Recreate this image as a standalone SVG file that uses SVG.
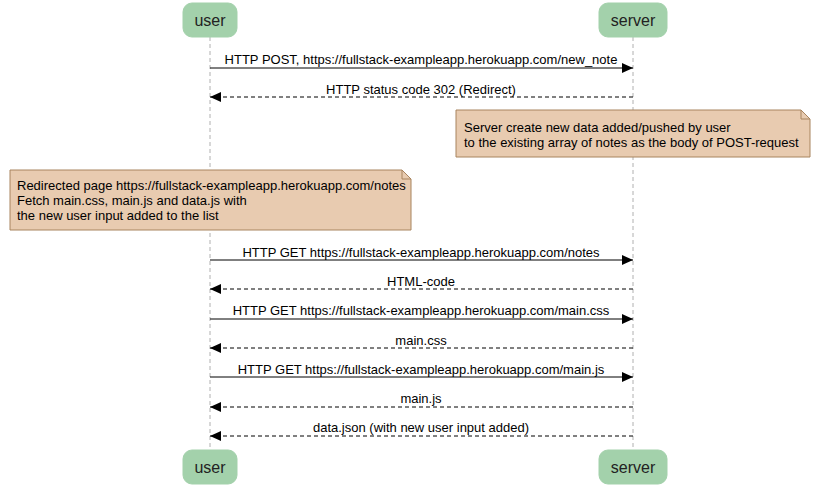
<svg xmlns="http://www.w3.org/2000/svg" width="819" height="487" viewBox="0 0 819 487">
<style>
.actor{fill:#a3d1ab;stroke:#a3d1ab;stroke-width:1}
.atext{font-family:"Liberation Sans",Arial,sans-serif;font-size:16px;fill:#222;text-anchor:middle}
.life{stroke:#b0b0b0;stroke-width:1;stroke-dasharray:4,3}
.msg{stroke:#000;stroke-width:1;fill:none}
.dash{stroke-dasharray:4,3}
.mtext{font-family:"Liberation Sans",Arial,sans-serif;font-size:13px;fill:#000;text-anchor:middle}
.note{fill:#e8cbb0;stroke:#a8845f;stroke-width:1}
.ntext{font-family:"Liberation Sans",Arial,sans-serif;font-size:13px;fill:#000}
</style>
<defs>
<marker id="ah" markerWidth="12" markerHeight="10" refX="11" refY="5" orient="auto" markerUnits="userSpaceOnUse">
<path d="M0,0 L11,5 L0,10 z" fill="#000"/>
</marker>
</defs>
<rect width="819" height="487" fill="#fff"/>
<g id="lifelines">
<line class="life" x1="210" y1="37" x2="210" y2="450"/>
<line class="life" x1="633" y1="37" x2="633" y2="450"/>
</g>
<g id="user-top"><rect class="actor" x="183" y="3" width="54" height="34" rx="9"/><text class="atext" x="210" y="26">user</text></g>
<g id="server-top"><rect class="actor" x="599" y="3" width="68" height="34" rx="9"/><text class="atext" x="633" y="26">server</text></g>
<g id="user-bottom"><rect class="actor" x="183" y="450" width="54" height="34" rx="9"/><text class="atext" x="210" y="473">user</text></g>
<g id="server-bottom"><rect class="actor" x="599" y="450" width="68" height="34" rx="9"/><text class="atext" x="633" y="473">server</text></g>
<g id="note1">
<path class="note" d="M456,110 L801,110 L810,119 L810,157 L456,157 Z"/>
<path d="M801,110 L801,119 L810,119" fill="none" stroke="#a8845f"/>
<text class="ntext" x="464" y="132">Server create new data added/pushed by user</text>
<text class="ntext" x="464" y="147">to the existing array of notes as the body of POST-request</text>
</g>
<g id="note2">
<path class="note" d="M10,170 L402,170 L411,179 L411,230 L10,230 Z"/>
<path d="M402,170 L402,179 L411,179" fill="none" stroke="#a8845f"/>
<text class="ntext" x="17" y="190">Redirected page https://fullstack-exampleapp.herokuapp.com/notes</text>
<text class="ntext" x="17" y="205">Fetch main.css, main.js and data.js with</text>
<text class="ntext" x="17" y="220">the new user input added to the list</text>
</g>
<g id="connectors">
<line class="msg" x1="210" y1="68" x2="633" y2="68" marker-end="url(#ah)"/>
<text class="mtext" x="421" y="64">HTTP POST, https://fullstack-exampleapp.herokuapp.com/new_note</text>
<line class="msg dash" x1="633" y1="97" x2="210" y2="97" marker-end="url(#ah)"/>
<text class="mtext" x="421" y="94">HTTP status code 302 (Redirect)</text>
<line class="msg" x1="210" y1="260" x2="633" y2="260" marker-end="url(#ah)"/>
<text class="mtext" x="421" y="257">HTTP GET https://fullstack-exampleapp.herokuapp.com/notes</text>
<line class="msg dash" x1="633" y1="289" x2="210" y2="289" marker-end="url(#ah)"/>
<text class="mtext" x="421" y="286">HTML-code</text>
<line class="msg" x1="210" y1="319" x2="633" y2="319" marker-end="url(#ah)"/>
<text class="mtext" x="421" y="315">HTTP GET https://fullstack-exampleapp.herokuapp.com/main.css</text>
<line class="msg dash" x1="633" y1="348" x2="210" y2="348" marker-end="url(#ah)"/>
<text class="mtext" x="421" y="345">main.css</text>
<line class="msg" x1="210" y1="377" x2="633" y2="377" marker-end="url(#ah)"/>
<text class="mtext" x="421" y="374">HTTP GET https://fullstack-exampleapp.herokuapp.com/main.js</text>
<line class="msg dash" x1="633" y1="407" x2="210" y2="407" marker-end="url(#ah)"/>
<text class="mtext" x="421" y="403">main.js</text>
<line class="msg dash" x1="633" y1="436" x2="210" y2="436" marker-end="url(#ah)"/>
<text class="mtext" x="421" y="432">data.json (with new user input added)</text>
</g>
</svg>
